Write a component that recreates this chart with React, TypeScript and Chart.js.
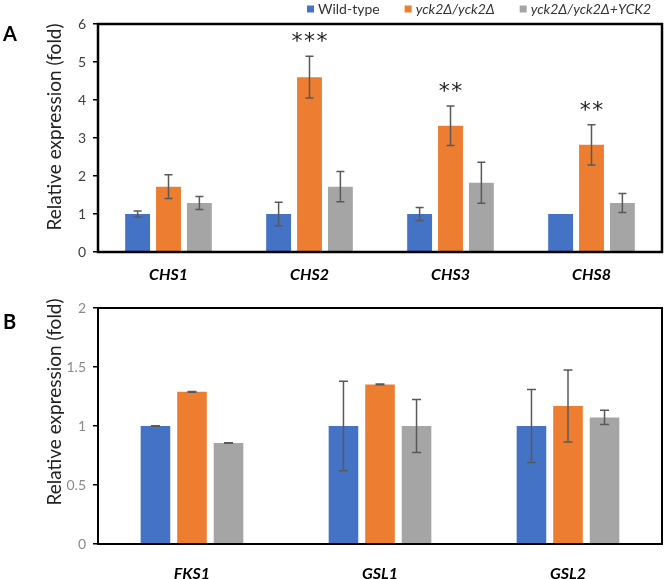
import { useEffect, useRef } from "react";
import { Chart, registerables } from "chart.js";
Chart.register(...registerables);

const FONT = "Lato, 'Open Sans', 'DejaVu Sans', sans-serif";

const seriesNames = ["Wild-type", "yck2Δ/yck2Δ", "yck2Δ/yck2Δ+YCK2"];
const seriesItalic = [false, true, true];
const seriesColors = ["#4472C4", "#ED7D31", "#A5A5A5"];

const genesA = ["CHS1", "CHS2", "CHS3", "CHS8"];
const wildA = [1.0, 1.0, 1.0, 1.0];
const mutA = [1.72, 4.6, 3.32, 2.82];
const compA = [1.29, 1.72, 1.82, 1.29];
const wildErrA = [0.08, 0.31, 0.17, 0];
const mutErrA = [0.31, 0.55, 0.52, 0.53];
const compErrA = [0.17, 0.4, 0.54, 0.25];
const sigA = ["", "***", "**", "**"];
const yTicksA = [0, 1, 2, 3, 4, 5, 6];

const genesB = ["FKS1", "GSL1", "GSL2"];
const wildB = [1.0, 1.0, 1.0];
const mutB = [1.29, 1.352, 1.169];
const compB = [0.856, 1.0, 1.073];
const wildErrB = [0.003, 0.38, 0.31];
const mutErrB = [0.003, 0.003, 0.305];
const compErrB = [0.003, 0.225, 0.06];
const sigB = ["", "", ""];
const yTicksB = [0, 0.5, 1, 1.5, 2];

const yTitle = "Relative expression (fold)";

interface Panel {
  letter: string;
  labels: string[];
  values: number[][];
  errors: number[][];
  sig: string[];
  ticks: number[];
  padTop: number;
  xAxisH: number;
  xTickPad: number;
  tickColor: string;
  borderW: number;
  titleY: number;
  letterY: number;
  capHalf: number;
  catPct: number;
  barPct: number;
  legend: boolean;
}

const panelA: Panel = {
  letter: "A",
  labels: genesA,
  values: [wildA, mutA, compA],
  errors: [wildErrA, mutErrA, compErrA],
  sig: sigA,
  ticks: yTicksA,
  padTop: 24,
  xAxisH: 40,
  xTickPad: 5,
  tickColor: "#404040",
  borderW: 2.5,
  titleY: 127,
  letterY: 35,
  capHalf: 4,
  catPct: 0.657,
  barPct: 0.806,
  legend: true,
};

const panelB: Panel = {
  letter: "B",
  labels: genesB,
  values: [wildB, mutB, compB],
  errors: [wildErrB, mutErrB, compErrB],
  sig: sigB,
  ticks: yTicksB,
  padTop: 16,
  xAxisH: 35,
  xTickPad: 12,
  tickColor: "#8a8a8a",
  borderW: 2,
  titleY: 110,
  letterY: 31,
  capHalf: 4.5,
  catPct: 0.583,
  barPct: 0.81,
  legend: false,
};

function makePlugin(p: Panel) {
  return {
    id: "decor" + p.letter,
    afterDatasetsDraw(chart: any) {
      const ctx: CanvasRenderingContext2D = chart.ctx;
      const ys = chart.scales.y;
      const area = chart.chartArea;
      ctx.save();
      // error bars
      ctx.strokeStyle = "#595959";
      ctx.lineWidth = 1.5;
      chart.data.datasets.forEach((ds: any, i: number) => {
        const meta = chart.getDatasetMeta(i);
        meta.data.forEach((bar: any, j: number) => {
          const v = ds.data[j] as number;
          const e = p.errors[i][j];
          if (!e) return;
          const x = bar.x;
          const yt = ys.getPixelForValue(v + e);
          const yb = ys.getPixelForValue(v - e);
          ctx.beginPath();
          ctx.moveTo(x, yt);
          ctx.lineTo(x, yb);
          ctx.moveTo(x - p.capHalf, yt);
          ctx.lineTo(x + p.capHalf, yt);
          ctx.moveTo(x - p.capHalf, yb);
          ctx.lineTo(x + p.capHalf, yb);
          ctx.stroke();
        });
      });
      // frame
      ctx.strokeStyle = "#000";
      ctx.lineWidth = p.borderW;
      ctx.strokeRect(area.left, area.top, area.right - area.left, area.bottom - area.top);
      // significance stars above mutant bars
      ctx.fillStyle = "#222";
      ctx.font = "22px 'DejaVu Sans', sans-serif";
      ctx.textAlign = "center";
      ctx.textBaseline = "alphabetic";
      const metaM = chart.getDatasetMeta(1);
      p.sig.forEach((s, j) => {
        if (!s) return;
        const bar: any = metaM.data[j];
        const v = chart.data.datasets[1].data[j] as number;
        const top = ys.getPixelForValue(v + p.errors[1][j]);
        const cy = top - 19;
        const m = ctx.measureText("*");
        const gh = m.actualBoundingBoxAscent - m.actualBoundingBoxDescent;
        const base = cy + gh / 2;
        const step = 12.5;
        const n = s.length;
        for (let k = 0; k < n; k++) {
          ctx.fillText("*", bar.x + (k - (n - 1) / 2) * step, base);
        }
      });
      // y axis title
      ctx.save();
      ctx.translate(55, p.titleY);
      ctx.rotate(-Math.PI / 2);
      ctx.textAlign = "center";
      ctx.textBaseline = "middle";
      ctx.fillStyle = "#222";
      ctx.font = "19px " + FONT;
      ctx.fillText(yTitle, 0, 0);
      ctx.restore();
      // panel letter
      ctx.fillStyle = "#000";
      ctx.font = "bold 20px " + FONT;
      ctx.textAlign = "left";
      ctx.textBaseline = "middle";
      ctx.fillText(p.letter, 3, p.letterY);
      // legend
      if (p.legend) {
        let x = 307;
        const cy = 9;
        ctx.textBaseline = "middle";
        seriesNames.forEach((name, i) => {
          ctx.fillStyle = seriesColors[i];
          ctx.fillRect(x, cy - 3.5, 7, 7);
          x += 11;
          ctx.fillStyle = "#333";
          ctx.font = (seriesItalic[i] ? "italic " : "") + "14px " + FONT;
          ctx.fillText(name, x, cy);
          x += ctx.measureText(name).width + 25;
        });
      }
      ctx.restore();
    },
  };
}

function buildConfig(p: Panel): any {
  return {
    type: "bar",
    data: {
      labels: p.labels,
      datasets: p.values.map((vals, i) => ({
        label: seriesNames[i],
        data: vals,
        backgroundColor: seriesColors[i],
        borderWidth: 0,
        categoryPercentage: p.catPct,
        barPercentage: p.barPct,
      })),
    },
    options: {
      animation: false,
      responsive: true,
      maintainAspectRatio: false,
      layout: { padding: { left: 0, right: 3, top: p.padTop, bottom: 0 } },
      plugins: { legend: { display: false }, tooltip: { enabled: false } },
      scales: {
        x: {
          grid: { display: false },
          border: { display: false },
          ticks: {
            padding: p.xTickPad,
            color: "#000",
            font: { family: FONT, size: 16, weight: "bold", style: "italic" },
          },
          afterFit: (s: any) => {
            s.height = p.xAxisH;
          },
        },
        y: {
          min: p.ticks[0],
          max: p.ticks[p.ticks.length - 1],
          afterBuildTicks: (s: any) => {
            s.ticks = p.ticks.map((v) => ({ value: v }));
          },
          grid: {
            drawOnChartArea: false,
            drawTicks: true,
            tickLength: 5,
            color: "#000",
            lineWidth: 1.5,
          },
          border: { display: false },
          ticks: {
            padding: 7,
            color: p.tickColor,
            font: { family: FONT, size: 14 },
            callback: (v: any) => String(v),
          },
          afterFit: (s: any) => {
            s.width = 98;
          },
        },
      },
    },
    plugins: [makePlugin(p)],
  };
}

export default function App() {
  const refA = useRef<HTMLCanvasElement>(null);
  const refB = useRef<HTMLCanvasElement>(null);
  useEffect(() => {
    const a = new Chart(refA.current as HTMLCanvasElement, buildConfig(panelA));
    const b = new Chart(refB.current as HTMLCanvasElement, buildConfig(panelB));
    return () => {
      a.destroy();
      b.destroy();
    };
  }, []);
  return (
    <div style={{ position: "absolute", left: 0, top: 0, width: 665, height: 579, background: "#fff" }}>
      <div style={{ position: "absolute", left: 0, top: 0, width: 665, height: 292 }}>
        <canvas ref={refA} />
      </div>
      <div style={{ position: "absolute", left: 0, top: 292, width: 665, height: 287 }}>
        <canvas ref={refB} />
      </div>
    </div>
  );
}
